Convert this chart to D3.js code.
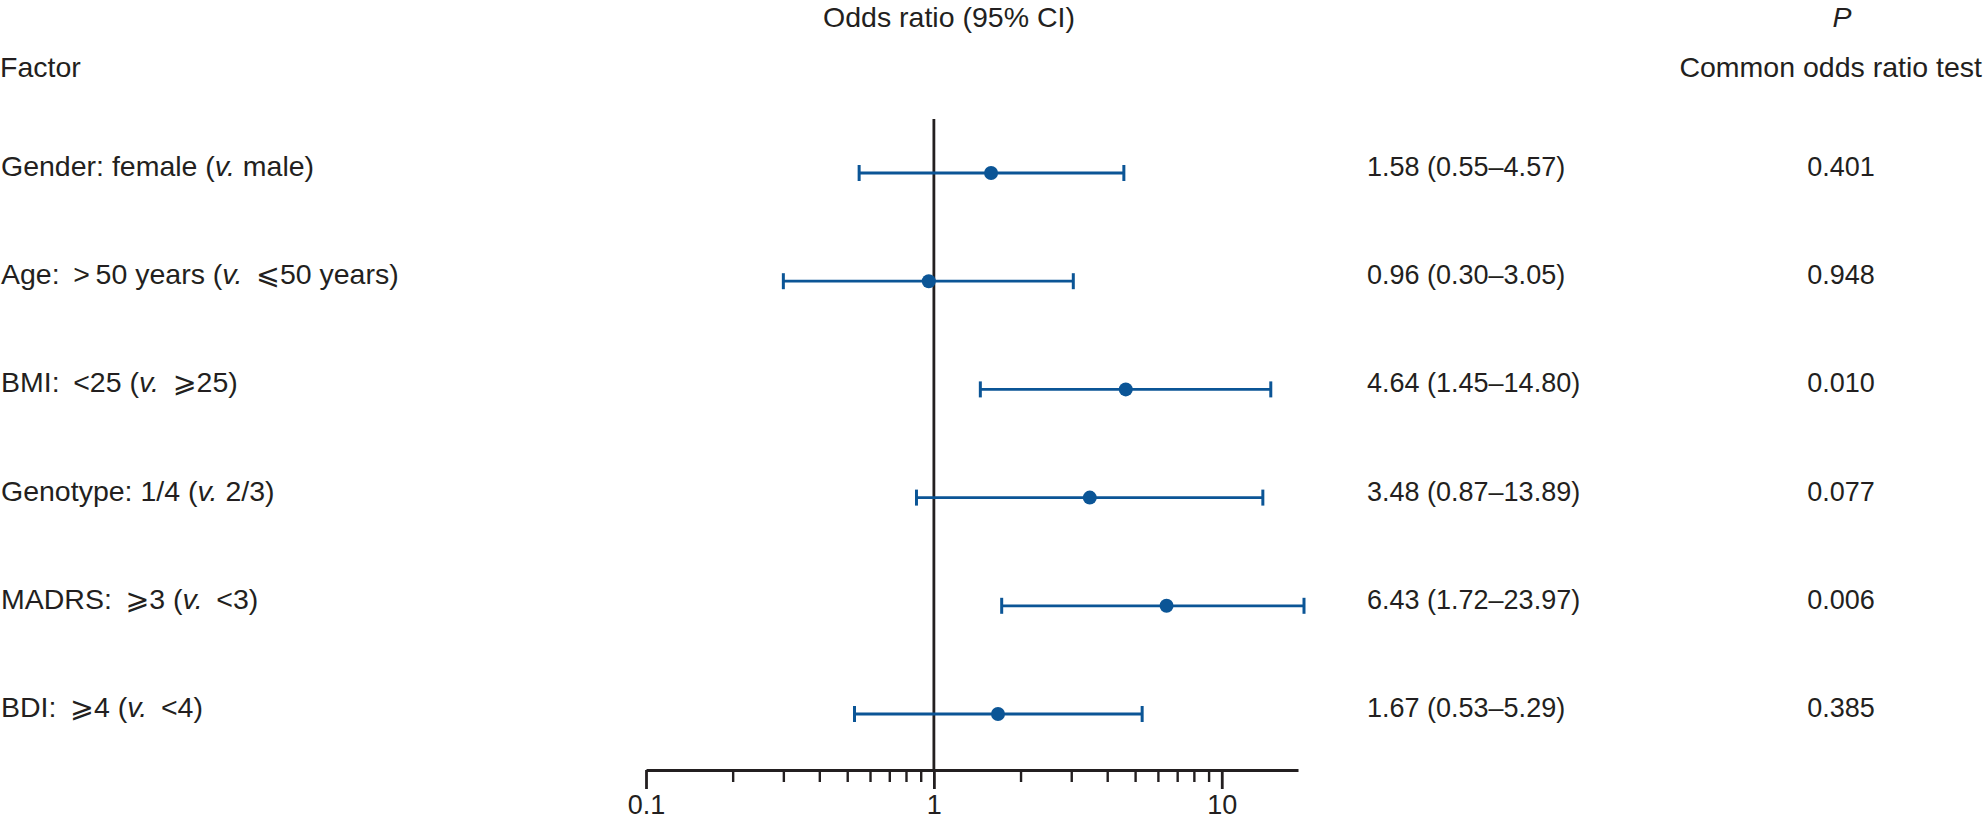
<!DOCTYPE html>
<html>
<head>
<meta charset="utf-8">
<script src="https://cdn.jsdelivr.net/npm/d3@7"></script>
<style>
  html, body { margin: 0; padding: 0; background: #fff; }
  svg text { font-family: 'Liberation Sans', Arial, 'DejaVu Sans', sans-serif; fill: #231f20; }
</style>
</head>
<body>
<div id="chart"></div>
<script>
/* Forest plot — odds ratios (95% CI) with common odds ratio test P values */

// label parts: [before italic, italic, after italic]
const factorLabels = [
  ['Gender: female (', 'v.', ' male)'],
  ['Age: \u2009>\u200950 years (', 'v.', ' \u2009\u2A7D50 years)'],
  ['BMI: \u2009<25 (', 'v.', ' \u2009\u2A7E25)'],
  ['Genotype: 1/4 (', 'v.', ' 2/3)'],
  ['MADRS: \u2009\u2A7E3 (', 'v.', ' \u2009<3)'],
  ['BDI: \u2009\u2A7E4 (', 'v.', ' \u2009<4)'],
];
const oddsRatio = [1.58, 0.96, 4.64, 3.48, 6.43, 1.67];
const ciLow     = [0.55, 0.30, 1.45, 0.87, 1.72, 0.53];
const ciHigh    = [4.57, 3.05, 14.80, 13.89, 23.97, 5.29];
const pValues   = ['0.401', '0.948', '0.010', '0.077', '0.006', '0.385'];
const majorTicks = [0.1, 1, 10];
const minorTicks = [0.2, 0.3, 0.4, 0.5, 0.6, 0.7, 0.8, 0.9, 2, 3, 4, 5, 6, 7, 8, 9];

const W = 1984, H = 821;
const BLUE = '#0b5596', INK = '#231f20';
const FS = 27;      // numbers
const FS_TXT = 28.5; // words

const svg = d3.select('#chart').append('svg')
  .attr('width', W).attr('height', H);

const rows = d3.range(oddsRatio.length);

// Scales
const x = d3.scaleLog().domain([0.1, 18.4]).range([646, 1298]).clamp(true);
const y = d3.scalePoint().domain(rows).range([173, 714]);
const axisY = 770;
const xEnd = x.range()[1];

// Headers
svg.append('text').attr('x', 949).attr('y', 27).attr('text-anchor', 'middle')
  .style('font-size', FS_TXT + 'px').text('Odds ratio (95% CI)');
svg.append('text').attr('x', 0).attr('y', 77)
  .style('font-size', FS_TXT + 'px').text('Factor');
svg.append('text').attr('x', 1842).attr('y', 27).attr('text-anchor', 'middle')
  .style('font-size', FS_TXT + 'px').style('font-style', 'italic').text('P');
svg.append('text').attr('x', 1982).attr('y', 77).attr('text-anchor', 'end')
  .style('font-size', FS_TXT + 'px').text('Common odds ratio test');

// Row labels, estimates and P values
rows.forEach(i => {
  const t = svg.append('text').attr('x', 1).attr('y', y(i) + 3)
    .style('font-size', FS_TXT + 'px');
  const [a, b, c] = factorLabels[i];
  t.append('tspan').text(a);
  t.append('tspan').style('font-style', 'italic').text(b);
  t.append('tspan').text(c);

  svg.append('text').attr('x', 1367).attr('y', y(i) + 3)
    .style('font-size', FS + 'px')
    .text(`${oddsRatio[i].toFixed(2)} (${ciLow[i].toFixed(2)}\u2013${ciHigh[i].toFixed(2)})`);

  svg.append('text').attr('x', 1841).attr('y', y(i) + 3).attr('text-anchor', 'middle')
    .style('font-size', FS + 'px').text(pValues[i]);
});

// Reference line at OR = 1
const step = y.step();
svg.append('line')
  .attr('x1', x(1)).attr('x2', x(1))
  .attr('y1', y(0) - step / 2).attr('y2', axisY)
  .attr('stroke', INK).attr('stroke-width', 2.8);

// Axis: minor ticks then major ticks with labels
const gAxis = svg.append('g').attr('transform', `translate(0,${axisY})`);
gAxis.append('g')
  .call(d3.axisBottom(x).tickValues(minorTicks).tickSize(12).tickFormat(''))
  .call(g => g.select('.domain').remove())
  .call(g => g.selectAll('line').attr('stroke', INK).attr('stroke-width', 2.4));
gAxis.append('g')
  .call(d3.axisBottom(x).tickValues(majorTicks).tickSize(19).tickSizeOuter(0)
    .tickPadding(6).tickFormat(d3.format('')))
  .call(g => g.select('.domain').attr('stroke', INK).attr('stroke-width', 3))
  .call(g => g.selectAll('line').attr('stroke', INK).attr('stroke-width', 2.8))
  .call(g => g.selectAll('text').attr('fill', INK)
    .style('font-size', FS + 'px')
    .style('font-family', "'Liberation Sans', Arial, sans-serif"));

// CI bars, caps and points (CI running past the axis end stops just beyond it)
const capH = 8;
const g = svg.append('g');
rows.forEach(i => {
  const yy = y(i);
  const x0 = x(ciLow[i]);
  const x1 = x(ciHigh[i]) >= xEnd ? xEnd + 6 : x(ciHigh[i]);
  g.append('line').attr('x1', x0).attr('x2', x1)
    .attr('y1', yy).attr('y2', yy)
    .attr('stroke', BLUE).attr('stroke-width', 2.8);
  [x0, x1].forEach(cx => {
    g.append('line').attr('x1', cx).attr('x2', cx)
      .attr('y1', yy - capH).attr('y2', yy + capH)
      .attr('stroke', BLUE).attr('stroke-width', 3);
  });
  g.append('circle').attr('cx', x(oddsRatio[i])).attr('cy', yy).attr('r', 7)
    .attr('fill', BLUE);
});
</script>
</body>
</html>
